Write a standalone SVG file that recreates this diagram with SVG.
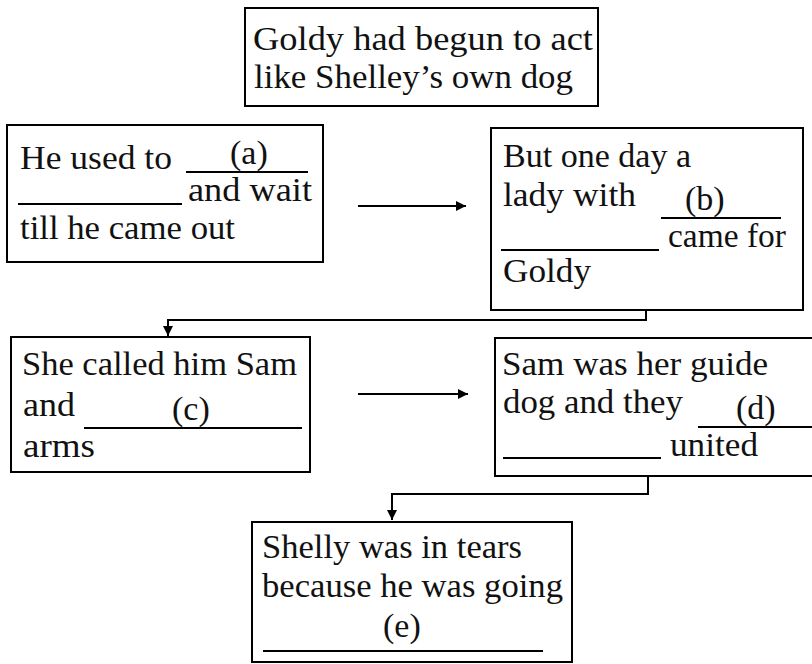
<svg xmlns="http://www.w3.org/2000/svg" width="812" height="664" viewBox="0 0 812 664">
<style>
.box{fill:#fff;stroke:#000;stroke-width:2}
.t{font-family:'Liberation Serif','Times New Roman',serif;font-size:34px;fill:#111}
.u{stroke:#000;stroke-width:1.8}
.c{fill:none;stroke:#000;stroke-width:2}
</style>
<defs>
<marker id="ah" viewBox="0 0 10 10" refX="10" refY="5" markerWidth="10" markerHeight="10" markerUnits="userSpaceOnUse" orient="auto">
<path d="M0,0 L10,5 L0,10 Z" fill="#000"/>
</marker>
</defs>
<rect width="812" height="664" fill="#fff"/>
<g id="connectors">
<line class="c" x1="358" y1="206" x2="466" y2="206" marker-end="url(#ah)"/>
<line class="c" x1="358" y1="394" x2="468" y2="394" marker-end="url(#ah)"/>
<path class="c" d="M646,310 V320 H168 V336" marker-end="url(#ah)"/>
<path class="c" d="M648,476 V494 H392 V520" marker-end="url(#ah)"/>
</g>
<g id="node-top">
<rect class="box" x="245" y="8" width="353" height="98"/>
<text class="t" x="253" y="50" textLength="340" lengthAdjust="spacingAndGlyphs">Goldy had begun to act</text>
<text class="t" x="254" y="88" textLength="319" lengthAdjust="spacingAndGlyphs">like Shelley’s own dog</text>
</g>
<g id="node-a">
<rect class="box" x="7" y="125" width="316" height="137"/>
<text class="t" x="20" y="169" textLength="152" lengthAdjust="spacingAndGlyphs">He used to</text>
<text class="t" x="230" y="164">(a)</text>
<line class="u" x1="186" y1="172" x2="308" y2="172"/>
<line class="u" x1="18" y1="204" x2="182" y2="204"/>
<text class="t" x="188" y="201" textLength="124" lengthAdjust="spacingAndGlyphs">and wait</text>
<text class="t" x="20" y="239" textLength="215" lengthAdjust="spacingAndGlyphs">till he came out</text>
</g>
<g id="node-b">
<rect class="box" x="491" y="128" width="312" height="182"/>
<text class="t" x="503" y="167" textLength="188" lengthAdjust="spacingAndGlyphs">But one day a</text>
<text class="t" x="503" y="206" textLength="133" lengthAdjust="spacingAndGlyphs">lady with</text>
<text class="t" x="685" y="210">(b)</text>
<line class="u" x1="661" y1="218" x2="781" y2="218"/>
<line class="u" x1="501" y1="250" x2="659" y2="250"/>
<text class="t" x="668" y="247" textLength="118" lengthAdjust="spacingAndGlyphs">came for</text>
<text class="t" x="503" y="282" textLength="88" lengthAdjust="spacingAndGlyphs">Goldy</text>
</g>
<g id="node-c">
<rect class="box" x="11" y="337" width="299" height="135"/>
<text class="t" x="22" y="375" textLength="275" lengthAdjust="spacingAndGlyphs">She called him Sam</text>
<text class="t" x="23" y="416" textLength="52" lengthAdjust="spacingAndGlyphs">and</text>
<text class="t" x="172" y="420">(c)</text>
<line class="u" x1="84" y1="428" x2="302" y2="428"/>
<text class="t" x="23" y="457" textLength="72" lengthAdjust="spacingAndGlyphs">arms</text>
</g>
<g id="node-d">
<rect class="box" x="495" y="338" width="330" height="138"/>
<text class="t" x="502" y="375" textLength="266" lengthAdjust="spacingAndGlyphs">Sam was her guide</text>
<text class="t" x="503" y="413" textLength="180" lengthAdjust="spacingAndGlyphs">dog and they</text>
<text class="t" x="736" y="419">(d)</text>
<line class="u" x1="698" y1="427" x2="812" y2="427"/>
<line class="u" x1="503" y1="458" x2="661" y2="458"/>
<text class="t" x="670" y="456" textLength="88" lengthAdjust="spacingAndGlyphs">united</text>
</g>
<g id="node-e">
<rect class="box" x="252" y="522" width="320" height="140"/>
<text class="t" x="262" y="558" textLength="260" lengthAdjust="spacingAndGlyphs">Shelly was in tears</text>
<text class="t" x="262" y="597" textLength="301" lengthAdjust="spacingAndGlyphs">because he was going</text>
<text class="t" x="383" y="637">(e)</text>
<line class="u" x1="263" y1="651" x2="543" y2="651"/>
</g>
</svg>
